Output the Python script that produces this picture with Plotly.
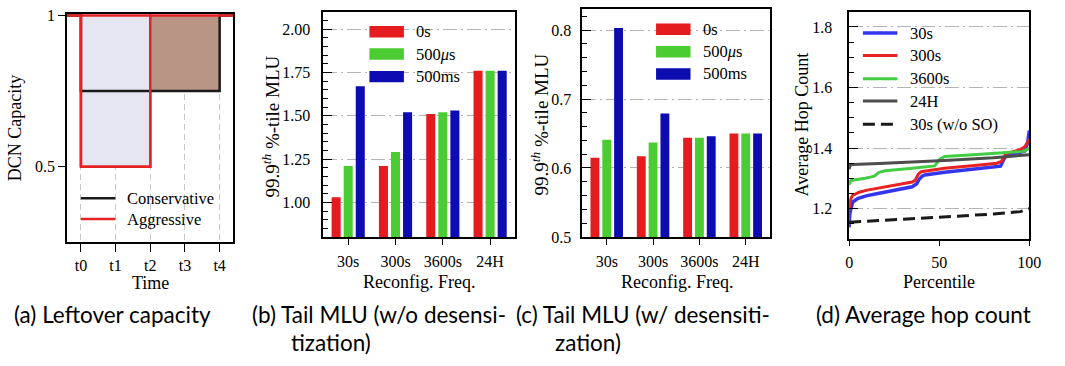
import plotly.graph_objects as go

W, H = 1065, 366

# ---------------- data ----------------
# (a) leftover capacity
time_labels = ["t0", "t1", "t2", "t3", "t4"]
time_pos = [0, 1, 2, 3, 4]
full_capacity = 1.0
conservative_capacity = [0.75, 0.75, 0.75, 0.75]   # per interval t0-t1 ... t3-t4
aggressive_capacity = [0.5, 0.5, 1.0, 1.0]

# (b),(c) tail MLU
freqs = ["30s", "300s", "3600s", "24H"]
delay_labels = ["0s", "500<i>μ</i>s", "500ms"]
mlu_wo_0s = [1.03, 1.21, 1.51, 1.76]
mlu_wo_500us = [1.21, 1.29, 1.52, 1.76]
mlu_wo_500ms = [1.67, 1.52, 1.53, 1.76]
mlu_w_0s = [0.615, 0.617, 0.644, 0.650]
mlu_w_500us = [0.641, 0.637, 0.644, 0.650]
mlu_w_500ms = [0.803, 0.679, 0.646, 0.650]

# (d) average hop count vs percentile
pct_30s = [0, 0.3, 1, 2, 5, 10, 16, 25, 35, 37.5, 39, 40.5, 42, 53, 71, 82, 84, 86, 88, 95, 97.5, 99, 100]
hop_30s = [1.138, 1.18, 1.20, 1.222, 1.234, 1.243, 1.25, 1.261, 1.272, 1.282, 1.298, 1.307, 1.311, 1.32, 1.33, 1.336, 1.34, 1.365, 1.379, 1.386, 1.39, 1.416, 1.458]
pct_300s = [0, 0.3, 1, 2, 5.6, 10, 16.6, 25, 35, 36.6, 38.4, 40, 53, 71, 82, 84.5, 86.7, 88.5, 95, 97.6, 99, 100]
hop_300s = [1.20, 1.215, 1.234, 1.244, 1.254, 1.261, 1.268, 1.278, 1.288, 1.293, 1.314, 1.322, 1.333, 1.343, 1.35, 1.356, 1.378, 1.384, 1.395, 1.405, 1.421, 1.43]
pct_3600s = [0, 0.5, 1, 9, 14, 16.6, 20, 35, 47.5, 50.3, 53, 71, 86, 97, 100]
hop_3600s = [1.279, 1.288, 1.293, 1.30, 1.307, 1.32, 1.325, 1.333, 1.341, 1.363, 1.372, 1.379, 1.384, 1.389, 1.40]
pct_24h = [0, 0.5, 2, 16.6, 53, 80, 100]
hop_24h = [1.33, 1.343, 1.346, 1.349, 1.359, 1.368, 1.378]
pct_30s_noso = [0, 15, 40, 60, 80, 95, 100]
hop_30s_noso = [1.155, 1.16, 1.168, 1.175, 1.182, 1.19, 1.20]

# ---------------- style ----------------
SERIF = "Liberation Serif"
SANS = "Lato"
RED, GREEN, BLUE = "#e41b1f", "#4ccc33", "#0c0cb0"
LINE_BLUE, LINE_RED, LINE_GREEN, LINE_GRAY, LINE_BLACK = "#3535ee", "#e62222", "#44cc44", "#4d4d4d", "#1a1a1a"
LAVENDER, BROWN = "#e6e6f2", "#b99585"
GRID = "#b4b4b4"


def xd(p0, p1):
    return [p0 / W, p1 / W]


def yd(top, bot):
    return [1 - bot / H, 1 - top / H]


def px(x):
    return x / W


def py(y):
    return 1 - y / H


fig = go.Figure()

# ---------------- (a) ----------------
XMIN_A, XMAX_A = -0.4, 4.4


def runs(mask):
    out, start = [], None
    for i, m in enumerate(mask):
        if m and start is None:
            start = i
        if not m and start is not None:
            out.append((start, i))
            start = None
    if start is not None:
        out.append((start, len(mask)))
    return out


def region(low_vals, mask):
    xs, ys = [], []
    for s, e in runs(mask):
        for i in range(s, e):
            xs += [time_pos[i], time_pos[i + 1]]
            ys += [low_vals[i], low_vals[i]]
        xs += [time_pos[e], time_pos[s], time_pos[s], None]
        ys += [full_capacity, full_capacity, low_vals[s], None]
    return xs, ys


lx, ly = region(aggressive_capacity, [a < full_capacity for a in aggressive_capacity])
fig.add_trace(go.Scatter(x=lx, y=ly, mode="lines", fill="toself", fillcolor=LAVENDER,
                         line=dict(color=LINE_RED, width=2.5), showlegend=False,
                         hoverinfo="skip", xaxis="x", yaxis="y"))
bx, by = region(conservative_capacity,
                [a >= full_capacity and c < full_capacity
                 for a, c in zip(aggressive_capacity, conservative_capacity)])
fig.add_trace(go.Scatter(x=bx, y=by, mode="lines", fill="toself", fillcolor=BROWN,
                         line=dict(width=0), showlegend=False,
                         hoverinfo="skip", xaxis="x", yaxis="y"))

step_x = [XMIN_A] + time_pos + [XMAX_A]
fig.add_trace(go.Scatter(x=step_x, y=[full_capacity] + conservative_capacity + [full_capacity] * 2,
                         mode="lines", line=dict(color=LINE_BLACK, width=2.5, shape="hv"),
                         name="Conservative", showlegend=False, xaxis="x", yaxis="y"))
fig.add_trace(go.Scatter(x=step_x, y=[full_capacity] + aggressive_capacity + [full_capacity] * 2,
                         mode="lines", line=dict(color=LINE_RED, width=2.5, shape="hv"),
                         name="Aggressive", showlegend=False, xaxis="x", yaxis="y"))

# ---------------- (b),(c) ----------------
bar_colors = [RED, GREEN, BLUE]
for vals, col, name in zip([mlu_wo_0s, mlu_wo_500us, mlu_wo_500ms], bar_colors, delay_labels):
    fig.add_trace(go.Bar(x=freqs, y=vals, marker=dict(color=col, line=dict(width=0)),
                         name=name, showlegend=False, xaxis="x2", yaxis="y2"))
for vals, col, name in zip([mlu_w_0s, mlu_w_500us, mlu_w_500ms], bar_colors, delay_labels):
    fig.add_trace(go.Bar(x=freqs, y=vals, marker=dict(color=col, line=dict(width=0)),
                         name=name, showlegend=False, xaxis="x3", yaxis="y3"))

# ---------------- (d) ----------------
d_series = [
    ("30s", pct_30s, hop_30s, LINE_BLUE, 3.5, "solid"),
    ("300s", pct_300s, hop_300s, LINE_RED, 3, "solid"),
    ("3600s", pct_3600s, hop_3600s, LINE_GREEN, 3, "solid"),
    ("24H", pct_24h, hop_24h, LINE_GRAY, 3, "solid"),
    ("30s (w/o SO)", pct_30s_noso, hop_30s_noso, LINE_BLACK, 3, "12px,6px"),
]
for name, xs, ys, col, w, dash in d_series:
    fig.add_trace(go.Scatter(x=xs, y=ys, mode="lines", line=dict(color=col, width=w, dash=dash),
                             name=name, showlegend=False, xaxis="x4", yaxis="y4"))

# ---------------- axes ----------------
tickfont = dict(family=SERIF, size=16, color="black")
frame = dict(showline=True, mirror=True, linecolor="black", linewidth=1.5, zeroline=False,
             tickcolor="black", tickfont=tickfont)
griddd = dict(showgrid=True, gridcolor=GRID, gridwidth=1.3, griddash="14px,4px,2px,4px")

fig.update_layout(
    width=W, height=H, margin=dict(l=0, r=0, t=0, b=0),
    paper_bgcolor="white", plot_bgcolor="white",
    barmode="group", bargap=0.235, bargroupgap=0.25,
    xaxis=dict(domain=xd(64, 233), range=[XMIN_A, XMAX_A], tickmode="array",
               tickvals=time_pos, ticktext=time_labels, ticks="outside", ticklen=8,
               showgrid=True, gridcolor="#c8c8c8", gridwidth=1.3, griddash="6px,4px",
               layer="above traces", ticklabelstandoff=0, anchor="y", **frame),
    yaxis=dict(domain=yd(7, 246), range=[0.25, 1.006], tickmode="array",
               tickvals=[0.5, 1.0], ticktext=["0.5", "1"], ticks="outside", ticklen=7,
               showgrid=False, layer="above traces", anchor="x", **frame),
    xaxis2=dict(domain=xd(324, 519), type="category", range=[-0.53, 3.53], ticks="outside",
                ticklen=6, showgrid=False, ticklabelstandoff=3, anchor="y2", **frame),
    yaxis2=dict(domain=yd(5, 240.5), range=[0.8, 2.1], tick0=0, dtick=0.25, tickformat=".2f",
                ticks="inside", ticklen=9, ticklabelstandoff=8, anchor="x2",
                minor=dict(ticks="inside", ticklen=5, dtick=0.05, tick0=0, tickcolor="black",
                           showgrid=False),
                **griddd, **frame),
    xaxis3=dict(domain=xd(587, 778), type="category", range=[-0.53, 3.53], ticks="outside",
                ticklen=6, showgrid=False, ticklabelstandoff=3, anchor="y3", **frame),
    yaxis3=dict(domain=yd(2.5, 240.5), range=[0.4999, 0.83], tick0=0, dtick=0.1, tickformat=".1f",
                ticks="inside", ticklen=9, ticklabelstandoff=6, anchor="x3",
                minor=dict(ticks="inside", ticklen=5, dtick=0.02, tick0=0, tickcolor="black",
                           showgrid=False),
                **griddd, **frame),
    xaxis4=dict(domain=xd(858, 1041), range=[-0.01, 100.01], tickmode="array",
                tickvals=[0, 50, 100], ticks="outside", ticklen=5, showgrid=False,
                ticklabelstandoff=3, anchor="y4", **frame),
    yaxis4=dict(domain=yd(5, 242.5), range=[1.1, 1.85], tick0=0, dtick=0.2, tickformat=".1f",
                ticks="inside", ticklen=9, ticklabelstandoff=12, anchor="x4",
                minor=dict(ticks="inside", ticklen=5, dtick=0.05, tick0=0, tickcolor="black",
                           showgrid=False),
                **griddd, **frame),
)

# ---------------- axis titles ----------------
title_font = dict(family=SERIF, size=18, color="black")
mlu_title_font = dict(family=SERIF, size=19, color="black")
axis_titles = [
    ("DCN Capacity", 12, 127, -90, title_font),
    ("Time", 149, 289, 0, title_font),
    ("99.9<sup><i>th</i></sup> %-tile MLU", 271, 125, -90, mlu_title_font),
    ("Reconfig. Freq.", 421, 288, 0, title_font),
    ("99.9<sup><i>th</i></sup> %-tile MLU", 544, 123, -90, mlu_title_font),
    ("Reconfig. Freq.", 683, 288, 0, title_font),
    ("Average Hop Count", 810, 123, -90, title_font),
    ("Percentile", 949, 288, 0, title_font),
]
for text, x, y, ang, f in axis_titles:
    fig.add_annotation(text=text, x=px(x), y=py(y), xref="paper", yref="paper",
                       showarrow=False, textangle=ang, font=f,
                       xanchor="center", yanchor="middle")

# ---------------- legends (drawn) ----------------
leg_font = dict(family=SERIF, size=16.5, color="black")


def patch_legend(x0, x1, xt, rows, labels, colors):
    for yc, lab, col in zip(rows, labels, colors):
        fig.add_shape(type="rect", xref="paper", yref="paper", x0=px(x0), x1=px(x1),
                      y0=py(yc + 6), y1=py(yc - 6), fillcolor=col, line=dict(width=0))
        fig.add_annotation(text=lab, x=px(xt), y=py(yc), xref="paper", yref="paper",
                           showarrow=False, xanchor="left", yanchor="middle", font=leg_font)


def line_legend(x0, x1, xt, rows, labels, colors, widths, dashes):
    for yc, lab, col, w, d in zip(rows, labels, colors, widths, dashes):
        fig.add_shape(type="line", xref="paper", yref="paper", x0=px(x0), x1=px(x1),
                      y0=py(yc), y1=py(yc), line=dict(color=col, width=w, dash=d))
        fig.add_annotation(text=lab, x=px(xt), y=py(yc), xref="paper", yref="paper",
                           showarrow=False, xanchor="left", yanchor="middle", font=leg_font)


line_legend(78, 113, 123, [200, 221.7], ["Conservative", "Aggressive"],
            [LINE_BLACK, LINE_RED], [2.5, 2.5], ["solid", "solid"])
patch_legend(371, 406, 416, [25.8, 49.2, 72.8], delay_labels, bar_colors)
patch_legend(662, 697, 708, [23.3, 46.7, 70], delay_labels, bar_colors)
line_legend(872, 907, 918, [27.3, 50.7, 75, 98.3, 122.7], [s[0] for s in d_series],
            [s[3] for s in d_series], [s[4] for s in d_series], [s[5] for s in d_series])

# ---------------- captions ----------------
cap_font = dict(family=SANS, size=22.5, color="black")
captions = [
    ("(a) Leftover capacity", 8, 322),
    ("(b) Tail MLU (w/o desensi-", 250, 322),
    ("tization)", 289, 351),
    ("(c) Tail MLU (w/ desensiti-", 518, 322),
    ("zation)", 557, 351),
    ("(d) Average hop count", 822, 322),
]
for text, x, y in captions:
    fig.add_annotation(text=text, x=px(x), y=py(y), xref="paper", yref="paper",
                       showarrow=False, xanchor="left", yanchor="middle", font=cap_font)

fig.write_html("out.html")
